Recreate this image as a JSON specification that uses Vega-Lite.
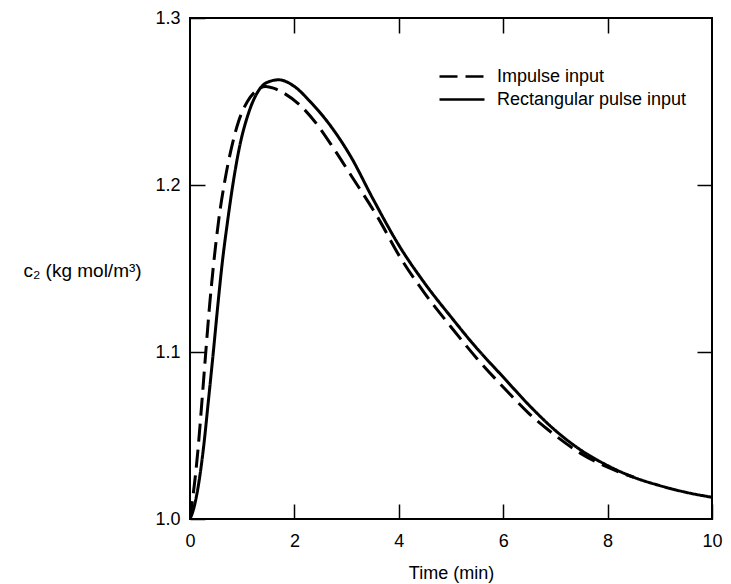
{
  "$schema": "https://vega.github.io/schema/vega-lite/v6.json",
  "autosize": "none",
  "padding": {"left": 190, "top": 18, "right": 19, "bottom": 65},
  "width": 522,
  "height": 501,
  "background": "white",
  "config": {
    "font": "Liberation Sans",
    "view": {"stroke": "black", "strokeWidth": 2},
    "axis": {
      "domain": false,
      "grid": false,
      "labelFlush": false,
      "tickColor": "black",
      "tickWidth": 1.5,
      "labelColor": "black",
      "titleColor": "black",
      "labelFont": "Liberation Sans",
      "titleFont": "Liberation Sans",
      "labelFontSize": 18,
      "titleFontSize": 18,
      "titleFontWeight": "normal"
    }
  },
  "data": {
    "values": [
      {"t": 0, "c": 1.0, "input": "Impulse input"},
      {"t": 0.05, "c": 1.012, "input": "Impulse input"},
      {"t": 0.1, "c": 1.025, "input": "Impulse input"},
      {"t": 0.16, "c": 1.044, "input": "Impulse input"},
      {"t": 0.22, "c": 1.067, "input": "Impulse input"},
      {"t": 0.29, "c": 1.095, "input": "Impulse input"},
      {"t": 0.37, "c": 1.126, "input": "Impulse input"},
      {"t": 0.45, "c": 1.152, "input": "Impulse input"},
      {"t": 0.55, "c": 1.179, "input": "Impulse input"},
      {"t": 0.67, "c": 1.203, "input": "Impulse input"},
      {"t": 0.8, "c": 1.223, "input": "Impulse input"},
      {"t": 0.93, "c": 1.238, "input": "Impulse input"},
      {"t": 1.1, "c": 1.25, "input": "Impulse input"},
      {"t": 1.25, "c": 1.256, "input": "Impulse input"},
      {"t": 1.45, "c": 1.259, "input": "Impulse input"},
      {"t": 1.6, "c": 1.258, "input": "Impulse input"},
      {"t": 1.8, "c": 1.255, "input": "Impulse input"},
      {"t": 2.1, "c": 1.248, "input": "Impulse input"},
      {"t": 2.44, "c": 1.236, "input": "Impulse input"},
      {"t": 2.75, "c": 1.222, "input": "Impulse input"},
      {"t": 3.08, "c": 1.206, "input": "Impulse input"},
      {"t": 3.59, "c": 1.181, "input": "Impulse input"},
      {"t": 4.04, "c": 1.156, "input": "Impulse input"},
      {"t": 4.5, "c": 1.135, "input": "Impulse input"},
      {"t": 5.0, "c": 1.115, "input": "Impulse input"},
      {"t": 5.5, "c": 1.096, "input": "Impulse input"},
      {"t": 6.03, "c": 1.078, "input": "Impulse input"},
      {"t": 6.5, "c": 1.063, "input": "Impulse input"},
      {"t": 7.0, "c": 1.05, "input": "Impulse input"},
      {"t": 7.5, "c": 1.039, "input": "Impulse input"},
      {"t": 8.0, "c": 1.031, "input": "Impulse input"},
      {"t": 8.5, "c": 1.025, "input": "Impulse input"},
      {"t": 0, "c": 1.0, "input": "Rectangular pulse input"},
      {"t": 0.06, "c": 1.005, "input": "Rectangular pulse input"},
      {"t": 0.16, "c": 1.02, "input": "Rectangular pulse input"},
      {"t": 0.26, "c": 1.043, "input": "Rectangular pulse input"},
      {"t": 0.35, "c": 1.07, "input": "Rectangular pulse input"},
      {"t": 0.45, "c": 1.101, "input": "Rectangular pulse input"},
      {"t": 0.53, "c": 1.127, "input": "Rectangular pulse input"},
      {"t": 0.62, "c": 1.154, "input": "Rectangular pulse input"},
      {"t": 0.71, "c": 1.176, "input": "Rectangular pulse input"},
      {"t": 0.83, "c": 1.202, "input": "Rectangular pulse input"},
      {"t": 0.95, "c": 1.223, "input": "Rectangular pulse input"},
      {"t": 1.1, "c": 1.241, "input": "Rectangular pulse input"},
      {"t": 1.25, "c": 1.253, "input": "Rectangular pulse input"},
      {"t": 1.45, "c": 1.261, "input": "Rectangular pulse input"},
      {"t": 1.7, "c": 1.263, "input": "Rectangular pulse input"},
      {"t": 2.0, "c": 1.259, "input": "Rectangular pulse input"},
      {"t": 2.3, "c": 1.25, "input": "Rectangular pulse input"},
      {"t": 2.63, "c": 1.238, "input": "Rectangular pulse input"},
      {"t": 3.08, "c": 1.217, "input": "Rectangular pulse input"},
      {"t": 3.5, "c": 1.192, "input": "Rectangular pulse input"},
      {"t": 4.0, "c": 1.164, "input": "Rectangular pulse input"},
      {"t": 4.5, "c": 1.141, "input": "Rectangular pulse input"},
      {"t": 5.0, "c": 1.121, "input": "Rectangular pulse input"},
      {"t": 5.5, "c": 1.102, "input": "Rectangular pulse input"},
      {"t": 6.0, "c": 1.085, "input": "Rectangular pulse input"},
      {"t": 6.5, "c": 1.068, "input": "Rectangular pulse input"},
      {"t": 7.0, "c": 1.053, "input": "Rectangular pulse input"},
      {"t": 7.5, "c": 1.041, "input": "Rectangular pulse input"},
      {"t": 8.0, "c": 1.032, "input": "Rectangular pulse input"},
      {"t": 8.5, "c": 1.025, "input": "Rectangular pulse input"},
      {"t": 9.0, "c": 1.02, "input": "Rectangular pulse input"},
      {"t": 9.5, "c": 1.016, "input": "Rectangular pulse input"},
      {"t": 10.0, "c": 1.013, "input": "Rectangular pulse input"}
    ]
  },
  "layer": [
    {
      "mark": {"type": "line", "color": "black", "strokeWidth": 3, "interpolate": "monotone", "clip": true},
      "encoding": {
        "x": {
          "field": "t",
          "type": "quantitative",
          "scale": {"domain": [0, 10], "nice": false, "zero": false},
          "axis": {
            "orient": "bottom",
            "values": [0, 2, 4, 6, 8, 10],
            "tickSize": -15,
            "labelPadding": 28,
            "title": "Time (min)",
            "titlePadding": 14
          }
        },
        "y": {
          "field": "c",
          "type": "quantitative",
          "scale": {"domain": [1.0, 1.3], "nice": false, "zero": false},
          "axis": {
            "orient": "left",
            "values": [1.0, 1.1, 1.2, 1.3],
            "format": ".1f",
            "tickSize": -15,
            "labelPadding": 25,
            "title": "c₂ (kg mol/m³)",
            "titleFontSize": 19,
            "titleAngle": 0,
            "titleAlign": "center",
            "titleBaseline": "middle",
            "titleX": -108,
            "titleY": 252
          }
        },
        "strokeDash": {
          "field": "input",
          "type": "nominal",
          "scale": {
            "domain": ["Impulse input", "Rectangular pulse input"],
            "range": [[18, 8], [1, 0]]
          },
          "legend": {
            "title": null,
            "orient": "none",
            "legendX": 248,
            "legendY": 48,
            "symbolType": "stroke",
            "symbolSize": 2025,
            "symbolStrokeWidth": 2.5,
            "symbolStrokeColor": "black",
            "clipHeight": 21,
            "rowPadding": 2,
            "labelOffset": 11,
            "labelLimit": 400,
            "labelFontSize": 18,
            "labelFont": "Liberation Sans",
            "labelColor": "black"
          }
        }
      }
    },
    {
      "mark": {"type": "line", "opacity": 0},
      "encoding": {
        "x": {
          "field": "t",
          "type": "quantitative",
          "axis": {"orient": "top", "values": [2, 4, 6, 8], "labels": false, "tickSize": -15, "title": null}
        },
        "y": {
          "field": "c",
          "type": "quantitative",
          "axis": {"orient": "right", "values": [1.1, 1.2], "labels": false, "tickSize": -15, "title": null}
        }
      }
    }
  ],
  "resolve": {"axis": {"x": "independent", "y": "independent"}}
}
